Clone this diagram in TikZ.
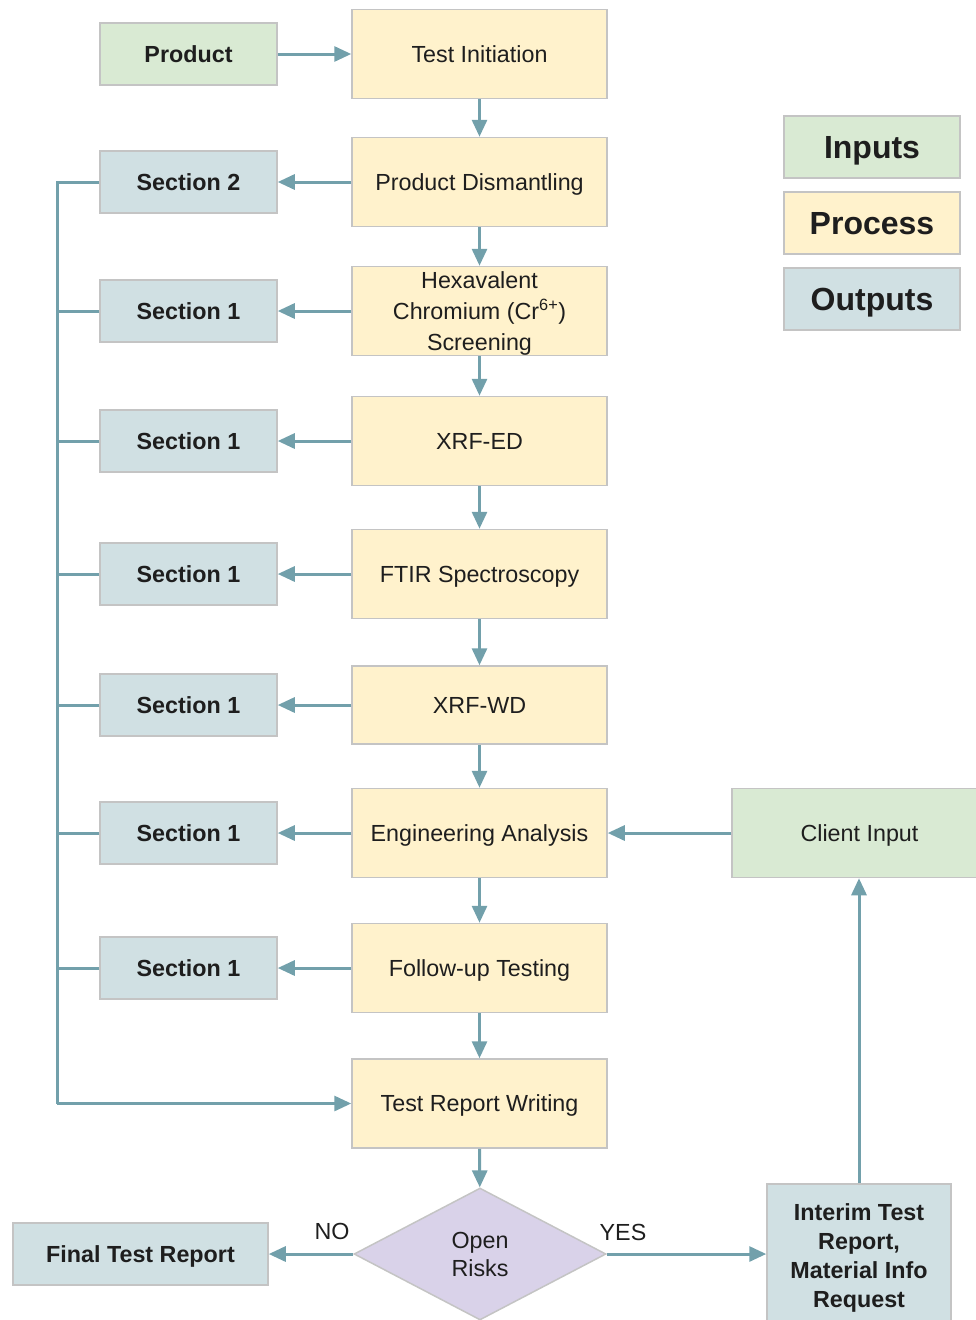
\documentclass[tikz,border=0pt]{standalone}
\usepackage{fontspec}
\setmainfont{Liberation Sans}
\usetikzlibrary{arrows.meta, shapes.geometric}

\definecolor{ingreen}{HTML}{D9EAD3}
\definecolor{procyellow}{HTML}{FFF2CC}
\definecolor{outblue}{HTML}{D0E0E3}
\definecolor{decpurple}{HTML}{D9D2E9}
\definecolor{boxline}{HTML}{C4C4C4}
\definecolor{flowcol}{HTML}{72A0AB}
\definecolor{txt}{HTML}{1E1E1E}

\begin{document}
\begin{tikzpicture}[x=1pt, y=-1pt,
    every node/.style={text=txt, font=\fontsize{23.3}{30}\selectfont, align=center, inner sep=2pt},
    inbox/.style={rectangle, draw=boxline, line width=1.5pt, fill=ingreen, minimum width=177pt, minimum height=62pt, text depth=0pt},
    procbox/.style={rectangle, draw=boxline, line width=1.5pt, fill=procyellow, minimum width=255pt, minimum height=89pt, text depth=0pt},
    outbox/.style={rectangle, draw=boxline, line width=1.5pt, fill=outblue, minimum width=177pt, minimum height=62pt, text depth=0pt, font=\fontsize{23.3}{29}\selectfont\bfseries},
    legbox/.style={rectangle, draw=boxline, line width=1.5pt, minimum width=176pt, minimum height=62pt, text depth=0pt, font=\fontsize{32}{36}\selectfont\bfseries},
    flow/.style={draw=flowcol, line width=3pt, -{Triangle[length=17pt, width=15pt]}},
    busline/.style={draw=flowcol, line width=3pt, line join=miter}]

    \useasboundingbox (0,0) rectangle (975,1320);

    % Inputs
    \node[inbox, font=\fontsize{23.3}{29}\selectfont\bfseries] (product) at (188.5,54) {Product};
    \node[inbox, minimum width=255pt, minimum height=89pt] (client) at (859.5,833) {Client Input};

    % Process steps
    \node[procbox] (init) at (479.5,54) {Test Initiation};
    \node[procbox] (dism) at (479.5,182) {Product Dismantling};
    \node[procbox, font=\fontsize{23.3}{31}\selectfont] (hexa) at (479.5,311) {Hexavalent\\Chromium (Cr\textsuperscript{6+})\\Screening};
    \node[procbox] (xrfed) at (479.5,441) {XRF-ED};
    \node[procbox] (ftir) at (479.5,574) {FTIR Spectroscopy};
    \node[procbox, minimum height=78pt] (xrfwd) at (479.5,705) {XRF-WD};
    \node[procbox] (eng) at (479.5,833) {Engineering Analysis};
    \node[procbox] (follow) at (479.5,968) {Follow-up Testing};
    \node[procbox] (report) at (479.5,1103.5) {Test Report Writing};
    \node[diamond, draw=boxline, line width=1.5pt, fill=decpurple, minimum width=252pt, minimum height=132pt, inner sep=0pt, font=\fontsize{23.3}{28}\selectfont] (risks) at (480,1254) {Open\\Risks};

    % Outputs
    \node[outbox] (sec2) at (188.5,182) {Section 2};
    \node[outbox] (secA) at (188.5,311) {Section 1};
    \node[outbox] (secB) at (188.5,441) {Section 1};
    \node[outbox] (secC) at (188.5,574) {Section 1};
    \node[outbox] (secD) at (188.5,705) {Section 1};
    \node[outbox] (secE) at (188.5,833) {Section 1};
    \node[outbox] (secF) at (188.5,968) {Section 1};
    \node[outbox, minimum width=255pt] (final) at (140.5,1254) {Final Test Report};
    \node[outbox, minimum width=184pt, minimum height=144pt] (interim) at (859,1256) {Interim Test\\Report,\\Material Info\\Request};

    % Legend
    \node[legbox, fill=ingreen] (leg1) at (872,147) {Inputs};
    \node[legbox, fill=procyellow] (leg2) at (872,223) {Process};
    \node[legbox, fill=outblue] (leg3) at (872,299) {Outputs};

    % Main flow
    \draw[flow] (product) -- (init);
    \draw[flow] (init) -- (dism);
    \draw[flow] (dism) -- (hexa);
    \draw[flow] (hexa) -- (xrfed);
    \draw[flow] (xrfed) -- (ftir);
    \draw[flow] (ftir) -- (xrfwd);
    \draw[flow] (xrfwd) -- (eng);
    \draw[flow] (eng) -- (follow);
    \draw[flow] (follow) -- (report);
    \draw[flow] (report) -- (risks);

    % Results to sections
    \draw[flow] (dism) -- (sec2);
    \draw[flow] (hexa) -- (secA);
    \draw[flow] (xrfed) -- (secB);
    \draw[flow] (ftir) -- (secC);
    \draw[flow] (xrfwd) -- (secD);
    \draw[flow] (eng) -- (secE);
    \draw[flow] (follow) -- (secF);

    % Sections collected into the report
    \coordinate (bustop) at (57,182);
    \coordinate (busbot) at (57,1103.5);
    \draw[busline] (sec2.west) -- (bustop) -- (busbot);
    \foreach \s in {secA, secB, secC, secD, secE, secF}
        \draw[busline] (\s.west) -- (\s.west -| bustop);
    \draw[flow] (busbot) -- (report.west);

    % Decision
    \draw[flow] (risks.west) -- (final.east);
    \draw[flow] (risks.east) -- (interim.west |- risks.east);
    \draw[flow] (interim.north) -- (client.south -| interim.north);
    \draw[flow] (client) -- (eng);
    \node (no) at (332,1231) {NO};
    \node (yes) at (623,1232) {YES};
\end{tikzpicture}
\end{document}
